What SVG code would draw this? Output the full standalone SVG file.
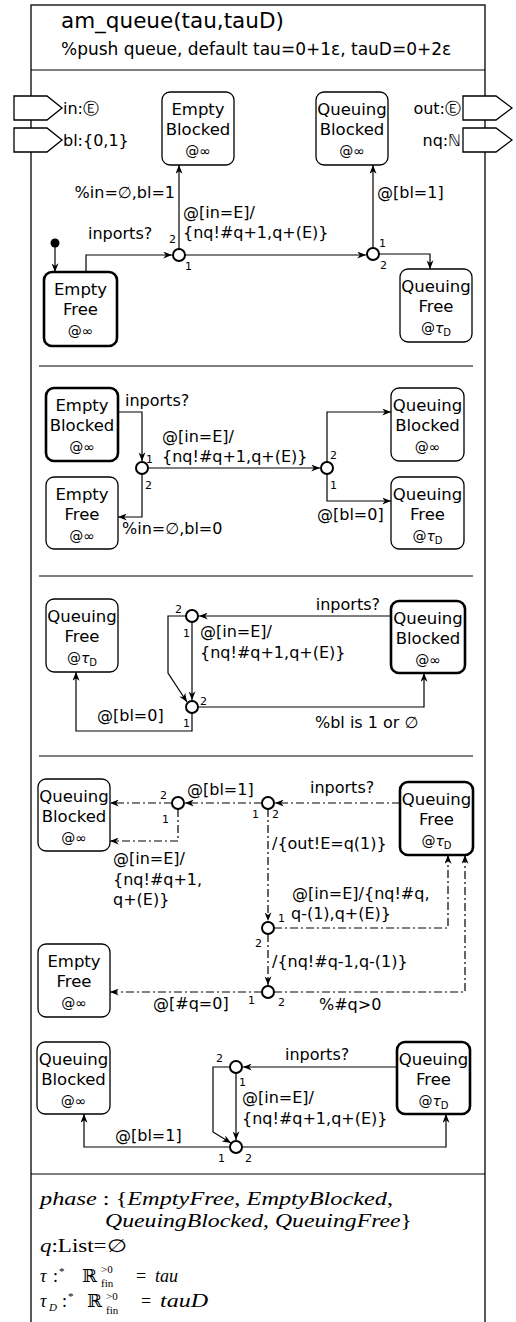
<svg xmlns="http://www.w3.org/2000/svg" width="516" height="1322" viewBox="0 0 516 1322">
  <style>
    .frame { fill: none; stroke: #000; stroke-width: 1.3; }
    .div { stroke: #000; stroke-width: 1.2; }
    .port { fill: #fff; stroke: #000; stroke-width: 1.3; }
    .node { fill: #fff; stroke: #000; stroke-width: 1.3; }
    .init { stroke-width: 2.6; }
    .t { font-family: "DejaVu Sans", "Liberation Sans", sans-serif; font-size: 16px; fill: #000; }
    .title { font-size: 21.5px; }
    .sub { font-size: 17px; }
    .nt { text-anchor: middle; font-size: 16.5px; }
    .at { font-size: 14px; }
    .num { font-size: 11px; }
    .end { text-anchor: end; }
    .c { fill: none; stroke: #000; stroke-width: 1.2; }
    .dd { stroke-dasharray: 8 3 2 3; }
    .j { fill: #fff; stroke: #000; stroke-width: 2; }
    .m { font-family: "Liberation Serif", "DejaVu Serif", serif; font-size: 18px; fill: #000; }
    .ms { font-family: "Liberation Serif", "DejaVu Serif", serif; font-size: 11px; fill: #000; }
    .mi { font-style: italic; }
  </style>
  <defs>
    <marker id="ah" viewBox="0 0 10 8" refX="10" refY="4" markerWidth="9" markerHeight="7" orient="auto" markerUnits="userSpaceOnUse">
      <path d="M0,0 L10,4 L0,8 L3,4 z" fill="#000"/>
    </marker>
  </defs>

  <rect x="0" y="0" width="516" height="1322" fill="#fff"/>

  <!-- outer frame and compartment lines -->
  <g id="frame">
    <rect class="frame" x="31" y="5" width="454" height="1330"/>
    <line class="div" x1="31" y1="70" x2="485" y2="70"/>
    <line class="div" x1="39" y1="366" x2="473" y2="366"/>
    <line class="div" x1="39" y1="576" x2="473" y2="576"/>
    <line class="div" x1="39" y1="756" x2="473" y2="756"/>
    <line class="div" x1="31" y1="1174" x2="485" y2="1174"/>
  </g>

  <!-- header -->
  <g id="header">
    <text class="t title" x="61" y="28">am_queue(tau,tauD)</text>
    <text class="t sub" x="61" y="55">%push queue, default tau=0+1ε, tauD=0+2ε</text>
  </g>

  <!-- ports -->
  <g id="port-in">
    <polygon class="port" points="14,96 47,96 62,108 47,120 14,120"/>
    <text class="t" x="63" y="114">in:Ⓔ</text>
  </g>
  <g id="port-bl">
    <polygon class="port" points="14,128 47,128 62,140 47,152 14,152"/>
    <text class="t" x="63" y="146">bl:{0,1}</text>
  </g>
  <g id="port-out">
    <polygon class="port" points="463,96 496,96 512,108 496,120 463,120"/>
    <text class="t end" x="461" y="114">out:Ⓔ</text>
  </g>
  <g id="port-nq">
    <polygon class="port" points="463,128 496,128 512,140 496,152 463,152"/>
    <text class="t end" x="461" y="146">nq:ℕ</text>
  </g>

  <!-- ===== region 1 nodes ===== -->
  <g id="r1-empty-blocked">
    <rect class="node" x="162" y="92" width="72" height="73" rx="8"/>
    <text class="t nt" x="198" y="115">Empty</text>
    <text class="t nt" x="198" y="135">Blocked</text>
    <text class="t nt at" x="198" y="156">@∞</text>
  </g>
  <g id="r1-queuing-blocked">
    <rect class="node" x="316" y="92" width="72" height="73" rx="8"/>
    <text class="t nt" x="352" y="115">Queuing</text>
    <text class="t nt" x="352" y="135">Blocked</text>
    <text class="t nt at" x="352" y="156">@∞</text>
  </g>
  <g id="r1-empty-free">
    <rect class="node init" x="44" y="272" width="73" height="74" rx="8"/>
    <text class="t nt" x="80.5" y="295">Empty</text>
    <text class="t nt" x="80.5" y="315">Free</text>
    <text class="t nt at" x="80.5" y="336">@∞</text>
  </g>
  <g id="r1-queuing-free">
    <rect class="node" x="400" y="269" width="72" height="73" rx="8"/>
    <text class="t nt" x="436" y="292">Queuing</text>
    <text class="t nt" x="436" y="312">Free</text>
    <text class="t nt at" x="436" y="333">@<tspan font-style="italic">τ</tspan><tspan font-size="10" dy="3">D</tspan></text>
  </g>
  <g id="r1-start">
    <circle cx="55" cy="243" r="4.5" fill="#000"/>
  </g>
  <g id="r1-j1"><circle class="j" cx="179" cy="255" r="6"/></g>
  <g id="r1-j2"><circle class="j" cx="373" cy="254" r="6"/></g>

  <!-- ===== region 2 nodes ===== -->
  <g id="r2-empty-blocked">
    <rect class="node init" x="46" y="388" width="72" height="73" rx="8"/>
    <text class="t nt" x="82" y="411">Empty</text>
    <text class="t nt" x="82" y="431">Blocked</text>
    <text class="t nt at" x="82" y="452">@∞</text>
  </g>
  <g id="r2-empty-free">
    <rect class="node" x="46" y="477" width="72" height="72" rx="8"/>
    <text class="t nt" x="82" y="500">Empty</text>
    <text class="t nt" x="82" y="520">Free</text>
    <text class="t nt at" x="82" y="541">@∞</text>
  </g>
  <g id="r2-queuing-blocked">
    <rect class="node" x="391" y="388" width="73" height="73" rx="8"/>
    <text class="t nt" x="427.5" y="411">Queuing</text>
    <text class="t nt" x="427.5" y="431">Blocked</text>
    <text class="t nt at" x="427.5" y="452">@∞</text>
  </g>
  <g id="r2-queuing-free">
    <rect class="node" x="391" y="477" width="73" height="72" rx="8"/>
    <text class="t nt" x="427.5" y="500">Queuing</text>
    <text class="t nt" x="427.5" y="520">Free</text>
    <text class="t nt at" x="427.5" y="541">@<tspan font-style="italic">τ</tspan><tspan font-size="10" dy="3">D</tspan></text>
  </g>
  <g id="r2-ja"><circle class="j" cx="142" cy="468" r="6"/></g>
  <g id="r2-jb"><circle class="j" cx="327" cy="468" r="6"/></g>

  <!-- ===== region 3 nodes ===== -->
  <g id="r3-queuing-free">
    <rect class="node" x="46" y="599" width="72" height="73" rx="8"/>
    <text class="t nt" x="82" y="622">Queuing</text>
    <text class="t nt" x="82" y="642">Free</text>
    <text class="t nt at" x="82" y="663">@<tspan font-style="italic">τ</tspan><tspan font-size="10" dy="3">D</tspan></text>
  </g>
  <g id="r3-queuing-blocked">
    <rect class="node init" x="391" y="601" width="74" height="72" rx="8"/>
    <text class="t nt" x="428" y="624">Queuing</text>
    <text class="t nt" x="428" y="644">Blocked</text>
    <text class="t nt at" x="428" y="665">@∞</text>
  </g>
  <g id="r3-j1"><circle class="j" cx="192" cy="616" r="6"/></g>
  <g id="r3-j2"><circle class="j" cx="192" cy="707" r="6"/></g>

  <!-- ===== region 4 nodes ===== -->
  <g id="r4-queuing-blocked">
    <rect class="node" x="38" y="779" width="72" height="72" rx="8"/>
    <text class="t nt" x="74" y="802">Queuing</text>
    <text class="t nt" x="74" y="822">Blocked</text>
    <text class="t nt at" x="74" y="843">@∞</text>
  </g>
  <g id="r4-empty-free">
    <rect class="node" x="38" y="944" width="72" height="73" rx="8"/>
    <text class="t nt" x="74" y="967">Empty</text>
    <text class="t nt" x="74" y="987">Free</text>
    <text class="t nt at" x="74" y="1008">@∞</text>
  </g>
  <g id="r4-queuing-free">
    <rect class="node init" x="400" y="782" width="73" height="73" rx="8"/>
    <text class="t nt" x="436.5" y="805">Queuing</text>
    <text class="t nt" x="436.5" y="825">Free</text>
    <text class="t nt at" x="436.5" y="846">@<tspan font-style="italic">τ</tspan><tspan font-size="10" dy="3">D</tspan></text>
  </g>
  <g id="r4-ja"><circle class="j" cx="178" cy="803" r="6"/></g>
  <g id="r4-jb"><circle class="j" cx="268" cy="803" r="6"/></g>
  <g id="r4-jc"><circle class="j" cx="268" cy="928" r="6"/></g>
  <g id="r4-jd"><circle class="j" cx="268" cy="992" r="6"/></g>

  <!-- ===== region 5 nodes ===== -->
  <g id="r5-queuing-blocked">
    <rect class="node" x="37" y="1042" width="73" height="72" rx="8"/>
    <text class="t nt" x="73.5" y="1065">Queuing</text>
    <text class="t nt" x="73.5" y="1085">Blocked</text>
    <text class="t nt at" x="73.5" y="1106">@∞</text>
  </g>
  <g id="r5-queuing-free">
    <rect class="node init" x="397" y="1042" width="73" height="72" rx="8"/>
    <text class="t nt" x="433.5" y="1065">Queuing</text>
    <text class="t nt" x="433.5" y="1085">Free</text>
    <text class="t nt at" x="433.5" y="1106">@<tspan font-style="italic">τ</tspan><tspan font-size="10" dy="3">D</tspan></text>
  </g>
  <g id="r5-j1"><circle class="j" cx="236" cy="1067" r="6"/></g>
  <g id="r5-j2"><circle class="j" cx="236" cy="1147" r="6"/></g>

  <!-- ===== connectors ===== -->
  <g id="connectors">
    <!-- region 1 -->
    <path class="c" d="M55,247 V272" marker-end="url(#ah)"/>
    <path class="c" d="M86,272 V255 H172" marker-end="url(#ah)"/>
    <path class="c" d="M179,249 V165" marker-end="url(#ah)"/>
    <path class="c" d="M185,255 H366" marker-end="url(#ah)"/>
    <path class="c" d="M373,248 V165" marker-end="url(#ah)"/>
    <path class="c" d="M379,254 H430 V269" marker-end="url(#ah)"/>

    <!-- region 2 -->
    <path class="c" d="M118,412 H142 V461" marker-end="url(#ah)"/>
    <path class="c" d="M148,468 H320" marker-end="url(#ah)"/>
    <path class="c" d="M142,474 V517 H118" marker-end="url(#ah)"/>
    <path class="c" d="M327,462 V412 H391" marker-end="url(#ah)"/>
    <path class="c" d="M327,474 V501 H391" marker-end="url(#ah)"/>

    <!-- region 3 -->
    <path class="c" d="M391,616 H199" marker-end="url(#ah)"/>
    <path class="c" d="M192,622 V700" marker-end="url(#ah)"/>
    <path class="c" d="M186,616 H168 V673 L187,702" marker-end="url(#ah)"/>
    <path class="c" d="M198,707 H424 V673" marker-end="url(#ah)"/>
    <path class="c" d="M192,713 V731 H76 V672" marker-end="url(#ah)"/>

    <!-- region 4 -->
    <path class="c dd" d="M400,803 H275" marker-end="url(#ah)"/>
    <path class="c dd" d="M262,803 H185" marker-end="url(#ah)"/>
    <path class="c dd" d="M172,803 H110" marker-end="url(#ah)"/>
    <path class="c dd" d="M178,809 V841 H110" marker-end="url(#ah)"/>
    <path class="c dd" d="M268,809 V921" marker-end="url(#ah)"/>
    <path class="c dd" d="M274,928 H448 V855" marker-end="url(#ah)"/>
    <path class="c dd" d="M268,934 V985" marker-end="url(#ah)"/>
    <path class="c dd" d="M274,992 H465 V855" marker-end="url(#ah)"/>
    <path class="c dd" d="M262,992 H110" marker-end="url(#ah)"/>

    <!-- region 5 -->
    <path class="c" d="M397,1067 H243" marker-end="url(#ah)"/>
    <path class="c" d="M236,1073 V1140" marker-end="url(#ah)"/>
    <path class="c" d="M230,1067 H213 V1132 L231,1143" marker-end="url(#ah)"/>
    <path class="c" d="M230,1147 H84 V1114" marker-end="url(#ah)"/>
    <path class="c" d="M242,1147 H446 V1114" marker-end="url(#ah)"/>
  </g>

  <!-- ===== connector labels ===== -->
  <g id="labels">
    <!-- region 1 -->
    <text class="t" x="88" y="239">inports?</text>
    <text class="t end" x="175" y="198">%in=∅,bl=1</text>
    <text class="t" x="183" y="218">@[in=E]/</text>
    <text class="t" x="183" y="238">{nq!#q+1,q+(E)}</text>
    <text class="t" x="377" y="198">@[bl=1]</text>
    <text class="t num" x="169" y="243">2</text>
    <text class="t num" x="185" y="270">1</text>
    <text class="t num" x="379" y="247">1</text>
    <text class="t num" x="380" y="269">2</text>

    <!-- region 2 -->
    <text class="t" x="125" y="406">inports?</text>
    <text class="t num" x="146" y="463">1</text>
    <text class="t num" x="145" y="489">2</text>
    <text class="t" x="162" y="442">@[in=E]/</text>
    <text class="t" x="162" y="462">{nq!#q+1,q+(E)}</text>
    <text class="t" x="122" y="534">%in=∅,bl=0</text>
    <text class="t num" x="330" y="459">2</text>
    <text class="t num" x="330" y="489">1</text>
    <text class="t" x="317" y="520">@[bl=0]</text>

    <!-- region 3 -->
    <text class="t end" x="380" y="610">inports?</text>
    <text class="t num" x="175" y="613">2</text>
    <text class="t num" x="183" y="637">1</text>
    <text class="t" x="200" y="637">@[in=E]/</text>
    <text class="t" x="200" y="658">{nq!#q+1,q+(E)}</text>
    <text class="t num" x="200" y="705">2</text>
    <text class="t num" x="183" y="727">1</text>
    <text class="t" x="315" y="728">%bl is 1 or ∅</text>
    <text class="t" x="97" y="721">@[bl=0]</text>

    <!-- region 4 -->
    <text class="t" x="310" y="793">inports?</text>
    <text class="t" x="187" y="795">@[bl=1]</text>
    <text class="t num" x="160" y="799">2</text>
    <text class="t num" x="162" y="823">1</text>
    <text class="t num" x="252" y="818">1</text>
    <text class="t num" x="272" y="818">2</text>
    <text class="t" x="113" y="864">@[in=E]/</text>
    <text class="t" x="113" y="885">{nq!#q+1,</text>
    <text class="t" x="113" y="905">q+(E)}</text>
    <text class="t" x="272" y="849">/{out!E=q(1)}</text>
    <text class="t" x="292" y="899">@[in=E]/{nq!#q,</text>
    <text class="t" x="291" y="919">q-(1),q+(E)}</text>
    <text class="t num" x="278" y="922">1</text>
    <text class="t num" x="255" y="947">2</text>
    <text class="t" x="272" y="967">/{nq!#q-1,q-(1)}</text>
    <text class="t num" x="248" y="1004">1</text>
    <text class="t num" x="278" y="1006">2</text>
    <text class="t" x="153" y="1009">@[#q=0]</text>
    <text class="t" x="319" y="1010">%#q&gt;0</text>

    <!-- region 5 -->
    <text class="t" x="285" y="1060">inports?</text>
    <text class="t num" x="216" y="1062">2</text>
    <text class="t num" x="239" y="1086">1</text>
    <text class="t" x="242" y="1103">@[in=E]/</text>
    <text class="t" x="242" y="1124">{nq!#q+1,q+(E)}</text>
    <text class="t" x="115" y="1141">@[bl=1]</text>
    <text class="t num" x="218" y="1162">1</text>
    <text class="t num" x="245" y="1162">2</text>
  </g>

  <!-- ===== variable declarations ===== -->
  <g id="declarations">
    <text class="m" x="40" y="1205" textLength="353" lengthAdjust="spacingAndGlyphs"><tspan class="mi">phase</tspan> : {<tspan class="mi">EmptyFree</tspan>, <tspan class="mi">EmptyBlocked</tspan>,</text>
    <text class="m" x="105" y="1227" textLength="307" lengthAdjust="spacingAndGlyphs"><tspan class="mi">QueuingBlocked</tspan>, <tspan class="mi">QueuingFree</tspan>}</text>
    <text class="m" x="40" y="1252" textLength="87" lengthAdjust="spacingAndGlyphs"><tspan class="mi">q</tspan>:List=∅</text>

    <text class="m mi" x="40" y="1282">τ</text>
    <text class="m" x="53" y="1282">:</text>
    <text class="ms" x="59" y="1275">*</text>
    <text class="m" x="82" y="1282">ℝ</text>
    <text class="ms" x="101" y="1273">&gt;0</text>
    <text class="ms" x="101" y="1287">fin</text>
    <text class="m" x="136" y="1282">=</text>
    <text class="m mi" x="155" y="1282" textLength="23" lengthAdjust="spacingAndGlyphs">tau</text>

    <text class="m mi" x="40" y="1307">τ</text>
    <text class="ms mi" x="49" y="1311">D</text>
    <text class="m" x="62" y="1307">:</text>
    <text class="ms" x="68" y="1300">*</text>
    <text class="m" x="87" y="1307">ℝ</text>
    <text class="ms" x="106" y="1300">&gt;0</text>
    <text class="ms" x="106" y="1314">fin</text>
    <text class="m" x="141" y="1307">=</text>
    <text class="m mi" x="160" y="1307" textLength="48" lengthAdjust="spacingAndGlyphs">tauD</text>
  </g>
</svg>
